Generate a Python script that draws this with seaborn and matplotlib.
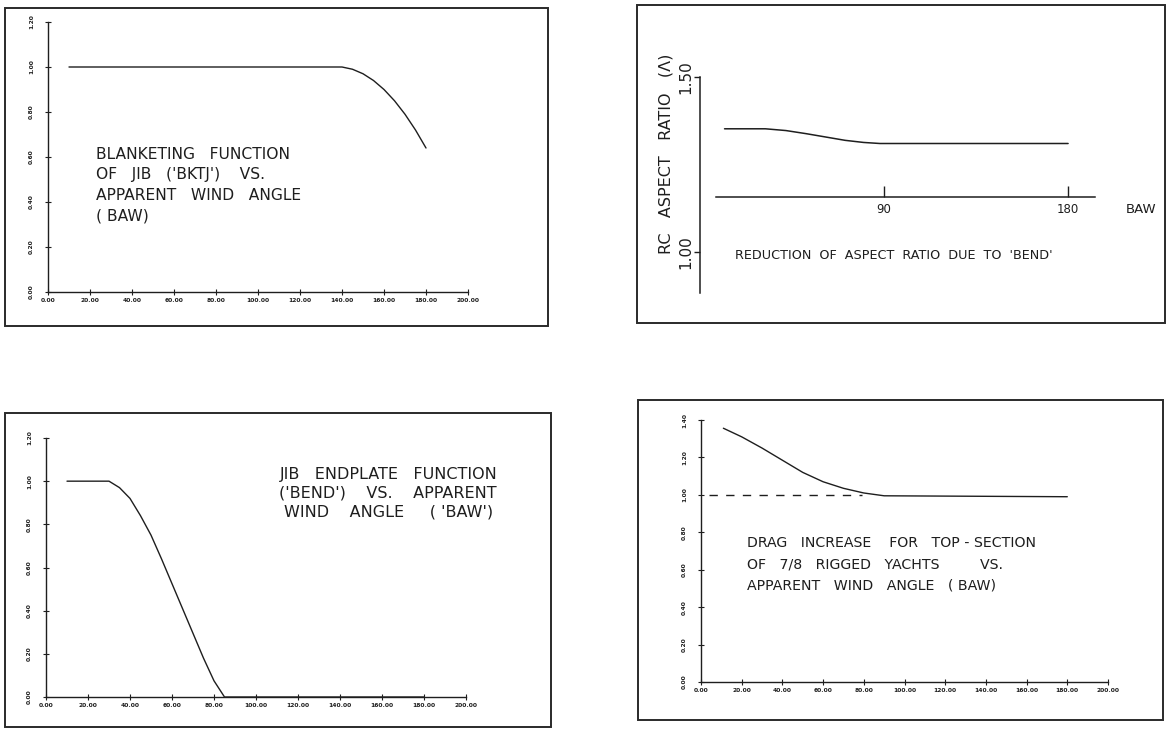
# %%
import matplotlib
matplotlib.use("Agg")
import matplotlib.pyplot as plt
from matplotlib.patches import Rectangle
import seaborn as sns

# %%
# data
baw_ticks = [0, 20, 40, 60, 80, 100, 120, 140, 160, 180, 200]

# blanketing function of jib (BKTJ) vs apparent wind angle
bktj_baw = [10, 140, 145, 150, 155, 160, 165, 170, 175, 180]
bktj = [1.0, 1.0, 0.99, 0.97, 0.94, 0.90, 0.85, 0.79, 0.72, 0.64]

# reduction of aspect ratio due to BEND
aspect_baw = [12, 32, 42, 52, 62, 71, 80, 88, 180]
aspect = [1.352, 1.352, 1.347, 1.338, 1.328, 1.319, 1.313, 1.31, 1.31]
aspect_ticks = [1.0, 1.5]
aspect_baw_ticks = [90, 180]

# jib endplate function (BEND)
bend_baw = [10, 30, 35, 40, 45, 50, 55, 60, 65, 70, 75, 80, 85, 180]
bend = [1.0, 1.0, 0.97, 0.92, 0.84, 0.75, 0.64, 0.525, 0.41, 0.295, 0.18, 0.075, 0.0, 0.0]

# drag increase for top-section of 7/8 rigged yachts
drag_baw = [11, 20, 30, 40, 50, 60, 70, 80, 90, 180]
drag = [1.356, 1.31, 1.25, 1.185, 1.12, 1.07, 1.035, 1.01, 0.995, 0.99]
drag_ref_baw = [4, 79]
drag_ref = [1.0, 1.0]

y_ticks_6 = [0.0, 0.2, 0.4, 0.6, 0.8, 1.0, 1.2]
y_ticks_7 = [0.0, 0.2, 0.4, 0.6, 0.8, 1.0, 1.2, 1.4]

# %%
sns.set_style("ticks")
plt.rcParams["font.family"] = ["DejaVu Sans"]
INK = "#1e1e1e"
W, H = 1167, 729
fig = plt.figure(figsize=(W / 100, H / 100), dpi=100)
fig.patch.set_facecolor("white")


def px_rect(l, t, r, b):
    return [l / W, 1 - b / H, (r - l) / W, (b - t) / H]


def frame(l, t, r, b):
    fig.add_artist(Rectangle((l / W, 1 - b / H), (r - l) / W, (b - t) / H,
                             transform=fig.transFigure, fill=False,
                             edgecolor="#2a2a2a", lw=1.4))


def printed_axes(rect, yticks):
    ax = fig.add_axes(rect)
    ax.set_facecolor("none")
    ax.set_xlim(0, 200)
    ax.set_ylim(0, yticks[-1])
    ax.set_xticks(baw_ticks)
    ax.set_xticklabels([f"{v:.2f}" for v in baw_ticks], fontsize=4.3,
                       fontweight="bold", color="#333333")
    ax.set_yticks(yticks)
    ax.set_yticklabels([f"{v:.2f}" for v in yticks], fontsize=4.3,
                       fontweight="bold", rotation=90, va="center",
                       color="#333333")
    ax.tick_params(direction="inout", length=4, width=0.8, pad=2, colors=INK)
    ax.tick_params(axis="y", pad=8)
    sns.despine(ax=ax)
    for s in ["left", "bottom"]:
        ax.spines[s].set_color(INK)
        ax.spines[s].set_linewidth(1.0)
    ax.set_xlabel("")
    ax.set_ylabel("")
    return ax


# %% top left: BKTJ
frame(5, 8, 548, 326)
ax1 = printed_axes(px_rect(48, 22, 468, 292), y_ticks_6)
sns.lineplot(x=bktj_baw, y=bktj, ax=ax1, color=INK, lw=1.0)
ax1.text(23, 0.645, "BLANKETING   FUNCTION\nOF   JIB   ('BKTJ')    VS.\nAPPARENT   WIND   ANGLE\n( BAW)",
         fontsize=11.2, color=INK, va="top", ha="left", linespacing=1.45)

# %% top right: hand drawn aspect ratio sketch
frame(637, 5, 1165, 323)
ax2 = fig.add_axes(px_rect(700, 59.5, 1109, 304.5))
ax2.set_facecolor("none")
sns.lineplot(x=aspect_baw, y=aspect, ax=ax2, color=INK, lw=1.1)
ax2.set_xlim(0, 200)
ax2.set_ylim(0.85, 1.55)
sns.despine(ax=ax2)
ax2.spines["bottom"].set_position(("data", 1.157))
ax2.spines["bottom"].set_bounds(8, 193)
ax2.spines["left"].set_bounds(0.883, 1.5)
for s in ["left", "bottom"]:
    ax2.spines[s].set_color(INK)
    ax2.spines[s].set_linewidth(1.1)
ax2.set_xticks(aspect_baw_ticks)
ax2.set_xticklabels(["90", "180"], fontsize=8.5, color=INK)
ax2.tick_params(axis="x", direction="in", length=8, width=1.0, pad=4, colors=INK)
ax2.set_yticks(aspect_ticks)
ax2.set_yticklabels([f"{v:.2f}" for v in aspect_ticks], fontsize=11,
                    rotation=90, va="center", color=INK)
ax2.tick_params(axis="y", direction="out", length=4, width=1.0, pad=1, colors=INK)
ax2.set_xlabel("")
ax2.set_ylabel("")
ax2.text(208, 1.14, "BAW", fontsize=9.5, color=INK, va="top", ha="left")
ax2.text(-16.5, 1.28, "RC   ASPECT   RATIO   (Λ)", fontsize=11.5, rotation=90,
         color=INK, va="center", ha="center")
ax2.text(17, 0.99, "REDUCTION  OF  ASPECT  RATIO  DUE  TO  'BEND'",
         fontsize=9.2, color=INK, va="center", ha="left")

# %% bottom left: BEND
frame(5, 413, 551, 727)
ax3 = printed_axes(px_rect(46, 438, 466, 697), y_ticks_6)
sns.lineplot(x=bend_baw, y=bend, ax=ax3, color=INK, lw=1.0)
ax3.text(163, 1.065, "JIB   ENDPLATE   FUNCTION\n('BEND')    VS.    APPARENT\nWIND    ANGLE     ( 'BAW')",
         fontsize=11.5, color=INK, va="top", ha="center", linespacing=1.3)

# %% bottom right: drag increase
frame(638, 400, 1163, 720)
ax4 = printed_axes(px_rect(701, 420, 1108, 682), y_ticks_7)
sns.lineplot(x=drag_baw, y=drag, ax=ax4, color=INK, lw=1.0)
sns.lineplot(x=drag_ref_baw, y=drag_ref, ax=ax4, color=INK, lw=1.0,
             linestyle=(0, (6, 6)))
ax4.text(22.6, 0.78, "DRAG   INCREASE    FOR   TOP - SECTION\nOF   7/8   RIGGED   YACHTS         VS.\nAPPARENT   WIND   ANGLE   ( BAW)",
         fontsize=10.2, color=INK, va="top", ha="left", linespacing=1.65)

plt.savefig("out.png", dpi=100, facecolor="white")
